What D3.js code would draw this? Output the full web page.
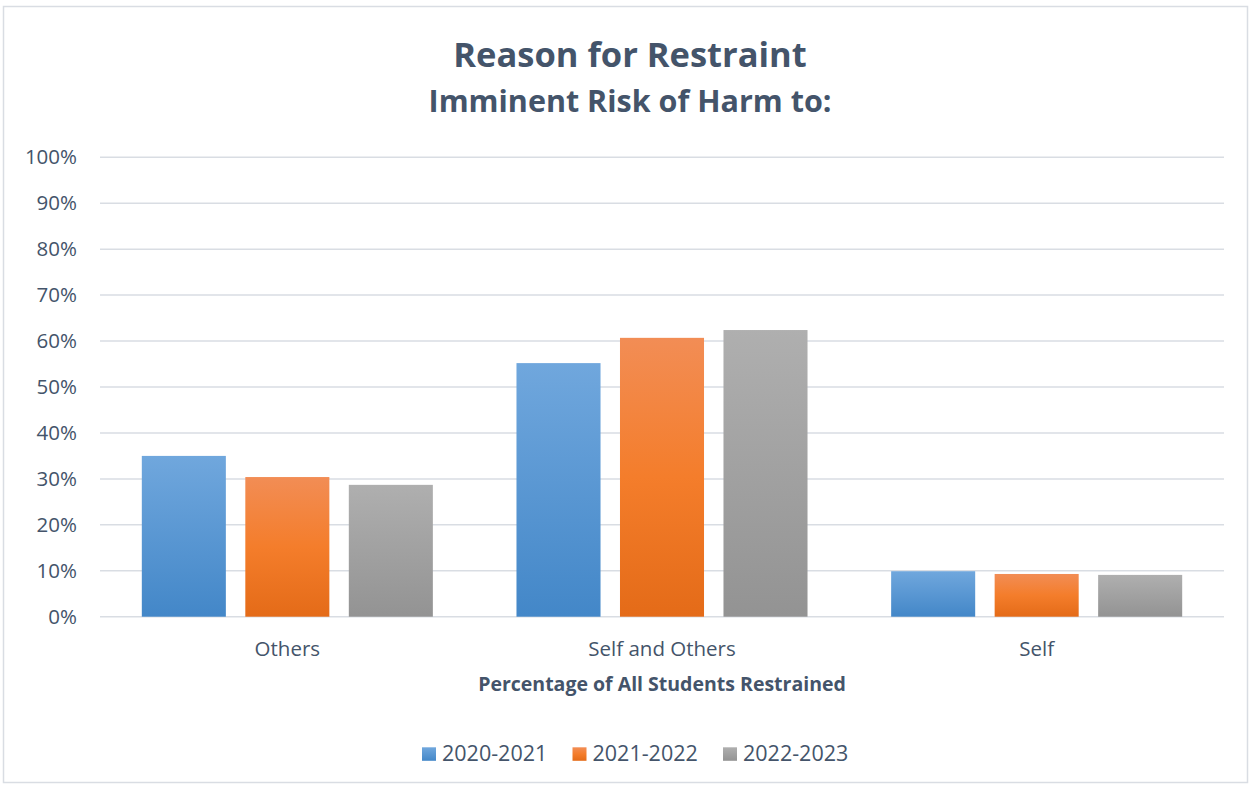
<!DOCTYPE html>
<html>
<head>
<meta charset="utf-8">
<script src="https://cdn.jsdelivr.net/npm/d3@7"></script>
<style>
  html, body { margin: 0; padding: 0; background: #fff; }
  svg { display: block; }
</style>
</head>
<body>
<svg id="chart" width="1252" height="786"></svg>
<script>
const categories = ["Others", "Self and Others", "Self"];
const seriesNames = ["2020-2021", "2021-2022", "2022-2023"];
const values2020 = [35.0, 55.2, 9.9];
const values2021 = [30.4, 60.7, 9.3];
const values2022 = [28.7, 62.4, 9.1];
const yTicks = [0, 10, 20, 30, 40, 50, 60, 70, 80, 90, 100];
const titleText = "Reason for Restraint";
const subtitleText = "Imminent Risk of Harm to:";
const xAxisTitle = "Percentage of All Students Restrained";

const seriesValues = [values2020, values2021, values2022];
const gradients = [
  { id: "gBlue", top: "#70a7dd", bottom: "#4387c8" },
  { id: "gOrange", top: "#f28d55", mid: "#f47d2b", bottom: "#e46b18" },
  { id: "gGray", top: "#afafaf", bottom: "#939393" }
];
const textColor = "#44546a";
const font = "'Open Sans', 'Noto Sans', sans-serif";

const svg = d3.select("#chart");
const W = 1252, H = 786;
const margin = { left: 100, right: 28, top: 157.3, bottom: 169.3 };
const plotW = W - margin.left - margin.right;
const plotH = H - margin.top - margin.bottom;

// border
svg.append("rect").attr("x", 3.5).attr("y", 6.5).attr("width", 1244).attr("height", 776)
  .attr("fill", "#fff").attr("stroke", "#d9dde3").attr("stroke-width", 1.5);

const defs = svg.append("defs");
gradients.forEach(g => {
  const lg = defs.append("linearGradient").attr("id", g.id)
    .attr("x1", 0).attr("y1", 0).attr("x2", 0).attr("y2", 1);
  lg.append("stop").attr("offset", "0%").attr("stop-color", g.top);
  if (g.mid) lg.append("stop").attr("offset", "50%").attr("stop-color", g.mid);
  lg.append("stop").attr("offset", "100%").attr("stop-color", g.bottom);
});

const g = svg.append("g").attr("transform", `translate(${margin.left},${margin.top})`);

const y = d3.scaleLinear().domain([0, 100]).range([plotH, 0]);
const x0 = d3.scaleBand().domain(categories).range([0, plotW]).paddingInner(0).paddingOuter(0);
const x1 = d3.scaleBand().domain(seriesNames).range([0, x0.bandwidth()]).paddingInner(0.188).paddingOuter(0.404);

// gridlines
g.append("g").selectAll("line").data(yTicks).join("line")
  .attr("x1", 0).attr("x2", plotW)
  .attr("y1", d => y(d)).attr("y2", d => y(d))
  .attr("stroke", "#d9dde3").attr("stroke-width", 1.5);

// y tick labels
const yAxis = d3.axisLeft(y).tickValues(yTicks).tickFormat(d => d + "%").tickSize(0).tickPadding(23);
const ya = g.append("g").call(yAxis);
ya.select(".domain").remove();
ya.selectAll("text").attr("font-family", font).attr("font-size", 20.5).attr("fill", textColor);

// bars
const groups = g.append("g").selectAll("g").data(categories).join("g")
  .attr("transform", d => `translate(${x0(d)},0)`);
groups.selectAll("rect")
  .data((c, ci) => seriesNames.map((s, si) => ({ s, si, v: seriesValues[si][ci] })))
  .join("rect")
  .attr("x", d => x1(d.s))
  .attr("width", x1.bandwidth())
  .attr("y", d => y(d.v))
  .attr("height", d => y(0) - y(d.v))
  .attr("fill", d => `url(#${gradients[d.si].id})`);

// x axis labels
const xAxis = d3.axisBottom(x0).tickSize(0).tickPadding(25);
const xa = g.append("g").attr("transform", `translate(0,${plotH})`).call(xAxis);
xa.select(".domain").remove();
xa.selectAll("text").attr("font-family", font).attr("font-size", 20.5).attr("fill", textColor);

// titles
svg.append("text").attr("x", 630).attr("y", 67).attr("text-anchor", "middle")
  .attr("font-family", font).attr("font-weight", "bold").attr("font-size", 34.5)
  .attr("fill", textColor).text(titleText);
svg.append("text").attr("x", 630).attr("y", 112).attr("text-anchor", "middle")
  .attr("font-family", font).attr("font-weight", "bold").attr("font-size", 30.5)
  .attr("fill", textColor).text(subtitleText);
svg.append("text").attr("x", margin.left + plotW / 2).attr("y", 691).attr("text-anchor", "middle")
  .attr("font-family", font).attr("font-weight", "bold").attr("font-size", 19.5)
  .attr("fill", textColor).text(xAxisTitle);

// legend
const legendX = d3.scalePoint().domain(seriesNames).range([422, 723]);
const lg = svg.append("g").selectAll("g").data(seriesNames).join("g")
  .attr("transform", d => `translate(${legendX(d)},747.3)`);
lg.append("rect").attr("width", 14).attr("height", 13.5)
  .attr("fill", (d, i) => `url(#${gradients[i].id})`);
lg.append("text").attr("x", 20).attr("y", 13.7)
  .attr("font-family", font).attr("font-size", 21.5).attr("fill", textColor)
  .text(d => d);
</script>
</body>
</html>
